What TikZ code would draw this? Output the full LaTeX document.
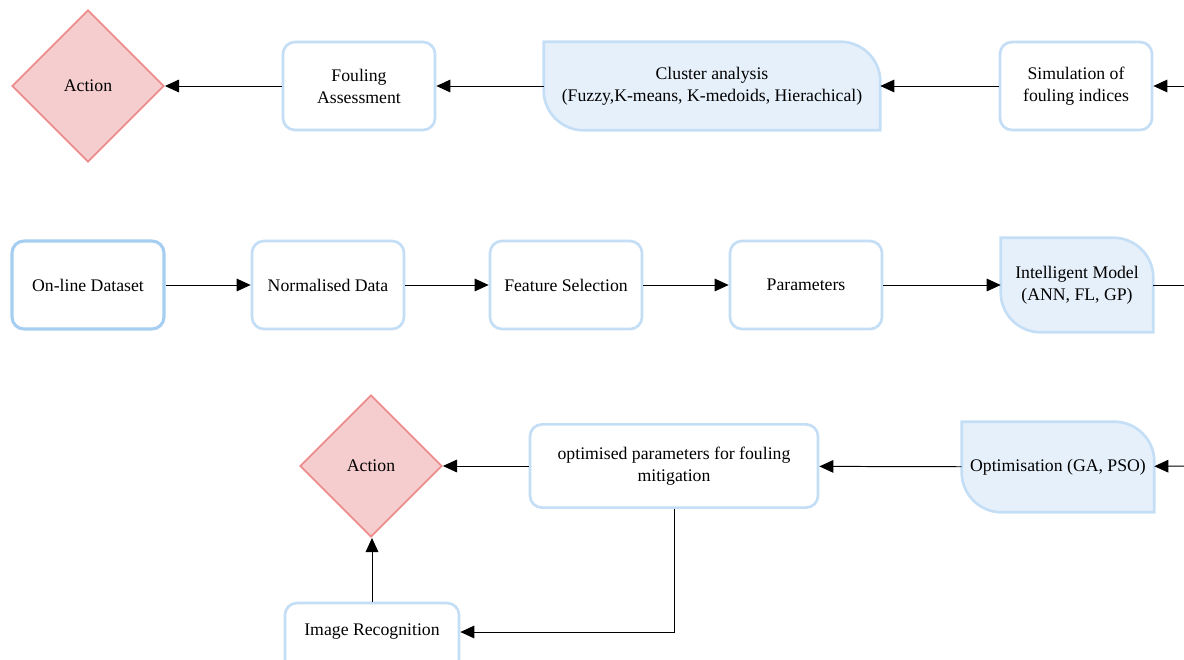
\documentclass[tikz,border=0pt]{standalone}
\usepackage{fontspec}
\setmainfont{Liberation Serif}
\usetikzlibrary{shapes.geometric,arrows.meta}

\definecolor{boxline}{HTML}{C4DEF6}
\definecolor{startline}{HTML}{A6CEF1}
\definecolor{cardfill}{HTML}{E6F0FB}
\definecolor{actfill}{HTML}{F5CDCE}
\definecolor{actline}{HTML}{EC8D8C}

\newcommand\boxfont{\fontsize{12.6}{15.6}\selectfont}

\tikzset{
  stepbox/.style={draw=boxline,line width=1.9pt,fill=white,rounded corners=0.3cm,
    minimum width=3.8cm,minimum height=2.2cm,align=center,font=\boxfont},
  card/.style={minimum width=3.8cm,minimum height=2.2cm,align=center,font=\boxfont},
  action/.style={diamond,draw=actline,line width=1.3pt,fill=actfill,aspect=1,
    minimum size=3.8cm,inner sep=0pt,font=\boxfont},
  flow/.style={line width=0.7pt,-{Triangle[length=10pt,width=9pt]}}
}

% card shape: sharp corners top left / bottom right, round ones elsewhere
\newcommand\cardframe[1]{%
  \fill[cardfill] (#1.north west) -- ([xshift=-1cm]#1.north east)
    arc[start angle=90,end angle=0,radius=1cm] -- (#1.south east)
    -- ([xshift=1cm]#1.south west) arc[start angle=270,end angle=180,radius=1cm] -- cycle;
  \draw[boxline,line width=1.9pt] (#1.north west) -- ([xshift=-1cm]#1.north east)
    arc[start angle=90,end angle=0,radius=1cm] -- (#1.south east)
    -- ([xshift=1cm]#1.south west) arc[start angle=270,end angle=180,radius=1cm] -- cycle;
  \node[font=\boxfont,align=center] at (#1) {\csname cardtext#1\endcsname};
}

\begin{document}
\begin{tikzpicture}[x=0.025cm,y=0.025cm]
  \useasboundingbox (0,0) rectangle (1184,-659);

  % top row
  \node[action] (act1) at (88,-86) {Action};
  \node[stepbox] (assess) at (359,-86) {Fouling\\Assessment};
  \node[card,minimum width=8.4cm] (cluster) at (712,-86) {};
  \node[stepbox] (simul) at (1076,-86) {Simulation of\\fouling indices};
  \coordinate (in1) at (1190,-86);

  % middle row
  \node[stepbox,draw=startline,line width=2.2pt] (data) at (88,-285) {On-line Dataset};
  \node[stepbox] (norm) at (328,-285) {Normalised Data};
  \node[stepbox] (feat) at (566,-285) {Feature Selection};
  \node[stepbox] (param) at (806,-285) {Parameters};
  \node[card,minimum height=2.35cm] (model) at (1077,-285) {};
  \coordinate (out1) at (1190,-285);

  % bottom row
  \node[action,minimum size=3.55cm] (act2) at (371,-466) {Action};
  \node[stepbox,minimum width=7.2cm,minimum height=2.08cm] (optpar) at (674,-466)
    {optimised parameters for fouling\\mitigation};
  \node[card,minimum width=4.8cm,minimum height=2.25cm] (optim) at (1058,-467) {};
  \coordinate (in2) at (1190,-466);
  \node[stepbox,minimum width=4.35cm] (image) at (372,-647) {};
  \node[font=\boxfont] (imagetxt) at (372,-632) {Image Recognition};

  \def\cardtextcluster{Cluster analysis\\(Fuzzy,K-means, K-medoids, Hierachical)}
  \def\cardtextmodel{Intelligent Model\\(ANN, FL, GP)}
  \def\cardtextoptim{Optimisation (GA, PSO)}
  \cardframe{cluster}
  \cardframe{model}
  \cardframe{optim}

  \draw[flow] (in1) -- (simul);
  \draw[flow] (simul) -- (cluster);
  \draw[flow] (cluster) -- (assess);
  \draw[flow] (assess) -- (act1);

  \draw[flow] (data) -- (norm);
  \draw[flow] (norm) -- (feat);
  \draw[flow] (feat) -- (param);
  \draw[flow] (param) -- (model);
  \draw[line width=0.7pt] (model) -- (out1);

  \draw[flow] (in2) -- (optim);
  \draw[flow] (optim) -- (optpar);
  \draw[flow] (optpar) -- (act2);
  \draw[flow] (optpar.south) |- (imagetxt.east -| image.east);
  \draw[flow] (image.north) -- (image.north |- act2.south);
\end{tikzpicture}
\end{document}
